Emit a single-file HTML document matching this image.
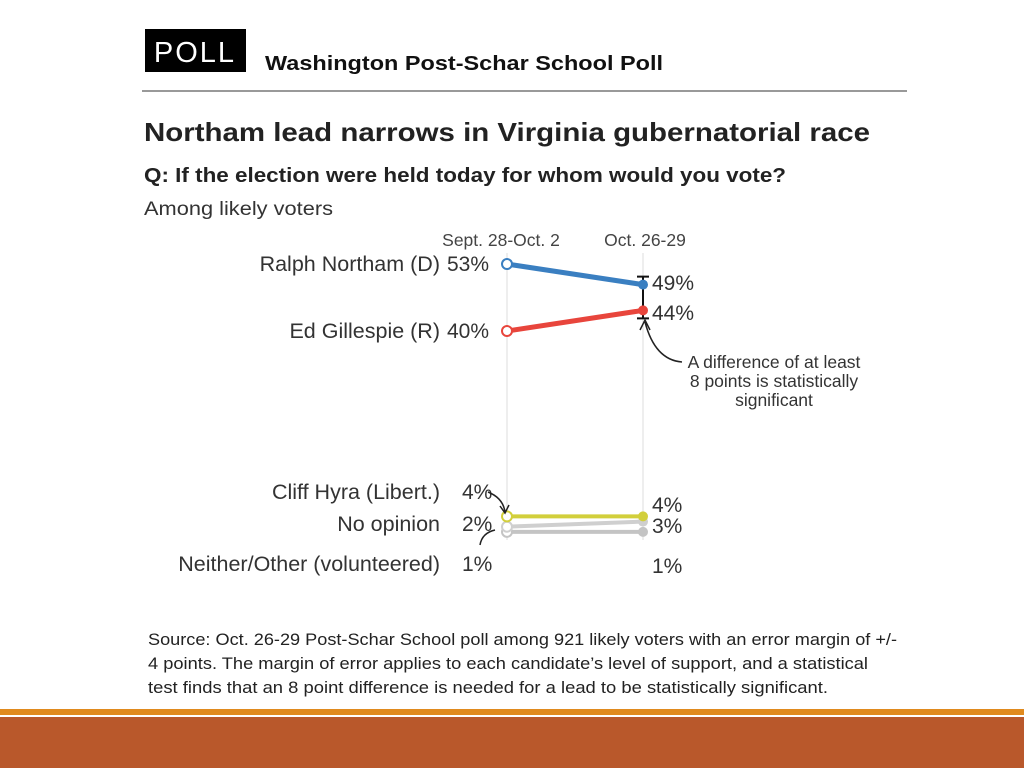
<!DOCTYPE html>
<html><head><meta charset="utf-8"><style>
body{margin:0;width:1024px;height:768px;background:#fff;overflow:hidden;font-family:"Liberation Sans",sans-serif;}
svg{position:absolute;left:0;top:0}
</style></head><body>
<svg width="1024" height="768" font-family="Liberation Sans, sans-serif">
<rect x="145" y="29" width="101" height="43" fill="#000"/>
<text x="195" y="62" text-anchor="middle" font-size="29" fill="#fff" letter-spacing="2">POLL</text>
<text x="265" y="70" font-size="20" font-weight="bold" fill="#111" textLength="398" lengthAdjust="spacingAndGlyphs">Washington Post-Schar School Poll</text>
<rect x="142" y="90" width="765" height="2" fill="#999"/>
<text x="144" y="141" font-size="26" font-weight="bold" fill="#222" textLength="726" lengthAdjust="spacingAndGlyphs">Northam lead narrows in Virginia gubernatorial race</text>
<text x="144" y="182" font-size="20" font-weight="bold" fill="#222" textLength="642" lengthAdjust="spacingAndGlyphs">Q: If the election were held today for whom would you vote?</text>
<text x="144" y="215" font-size="19.5" fill="#333" textLength="189" lengthAdjust="spacingAndGlyphs">Among likely voters</text>
<g id="chart"></g>
<text x="148" y="645" font-size="16.5" fill="#222" textLength="749" lengthAdjust="spacingAndGlyphs">Source: Oct. 26-29 Post-Schar School poll among 921 likely voters with an error margin of +/-</text>
<text x="148" y="669" font-size="16.5" fill="#222" textLength="720" lengthAdjust="spacingAndGlyphs">4 points. The margin of error applies to each candidate’s level of support, and a statistical</text>
<text x="148" y="693" font-size="16.5" fill="#222" textLength="680" lengthAdjust="spacingAndGlyphs">test finds that an 8 point difference is needed for a lead to be statistically significant.</text>
<rect x="0" y="709" width="1024" height="6" fill="#e08a1e"/>
<rect x="0" y="717" width="1024" height="51" fill="#b9582b"/>
</svg>
<script>
const periods=["Sept. 28-Oct. 2","Oct. 26-29"];
const names=["Ralph Northam (D)","Ed Gillespie (R)","Cliff Hyra (Libert.)","No opinion","Neither/Other (volunteered)"];
const first=[53,40,4,2,1];
const second=[49,44,4,3,1];
const colors=["#3a7fc1","#e8453c","#d2cf3b","#cfcfcf","#c4c4c4"];
const NS="http://www.w3.org/2000/svg";
const g=document.getElementById('chart');
const xs=i=>507+i*136;
const y=v=>537-v*5.15;
function mk(t,a,p){const e=document.createElementNS(NS,t);for(const k in a)e.setAttribute(k,a[k]);(p||g).appendChild(e);return e;}
periods.forEach((p,i)=>{
const l=mk('line',{x1:xs(i),x2:xs(i),y1:253,y2:540,stroke:'#ddd','stroke-width':1});


const t=mk('text',{x:xs(i)+(i?2:-6),y:246,'text-anchor':'middle','font-size':17.5,fill:'#444'});t.textContent=p;


});
const eb=mk('path',{d:`M${xs(1)-6} ${y(second[0])-8}h12M${xs(1)} ${y(second[0])-8}V${y(second[1])+8}M${xs(1)-6} ${y(second[1])+8}h12`,stroke:'#111','stroke-width':2,fill:'none'});


for(let k=names.length-1;k>=0;k--){
const ln=mk('line',{x1:xs(0),y1:y(first[k]),x2:xs(1),y2:y(second[k]),stroke:colors[k],'stroke-width':k<2?5:4});


const c1=mk('circle',{cx:xs(0),cy:y(first[k]),r:5,fill:'#fff',stroke:colors[k],'stroke-width':2});


const c2=mk('circle',{cx:xs(1),cy:y(second[k]),r:5,fill:colors[k]});


}
const labY=[264,331,492,524,564];
const rY=[283,313,505,526,566];
names.forEach((n,k)=>{
const a=mk('text',{x:440,y:labY[k]+7,'text-anchor':'end','font-size':21.5,fill:'#333'});a.textContent=n;


const b=mk('text',{x:447,y:labY[k]+7,'font-size':21,fill:'#333'});b.textContent=first[k]+'%';
b.setAttribute('x',k<2?447:462);


if(k===3)return;
const c=mk('text',{x:652,y:rY[k]+7,'font-size':21,fill:'#333'});c.textContent=second[k]+'%';


});
const c3=mk('text',{x:652,y:533,'font-size':21,fill:'#333'});c3.textContent=second[3]+'%';


const arr=mk('path',{d:`M682 362 Q655 360 645 322 M640 330 L645 320 L650 330 M488 492 Q503 498 505 512 M500 506 L505 513 L509 505 M480 545 Q482 533 495 530`,stroke:'#222','stroke-width':1.5,fill:'none'});


["A difference of at least","8 points is statistically","significant"].forEach((s,i)=>{
const t=mk('text',{x:774,y:368+i*19,'text-anchor':'middle','font-size':17.5,fill:'#333'});t.textContent=s;


});
</script>
</body></html>
